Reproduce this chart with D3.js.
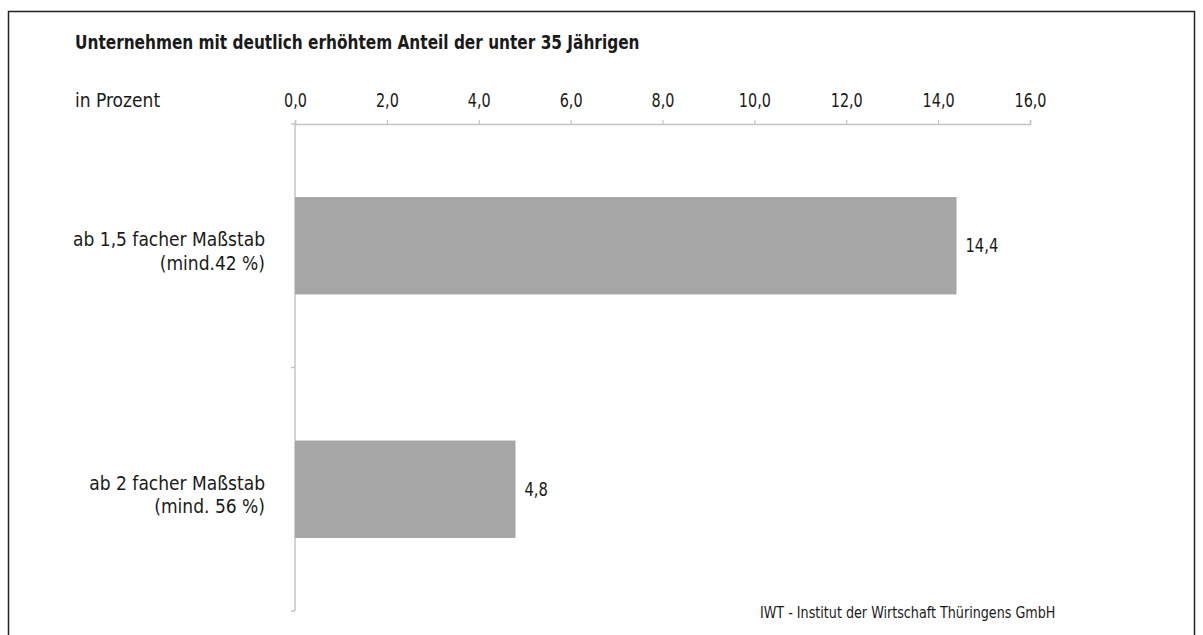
<!DOCTYPE html>
<html>
<head>
<meta charset="utf-8">
<script src="https://cdn.jsdelivr.net/npm/d3@7"></script>
<style>
  html, body { margin: 0; padding: 0; background: #fff; }
  svg { display: block; }
  text { font-family: "Liberation Sans Narrow", "Arial Narrow", "DejaVu Sans Condensed", sans-serif; fill: #1a1a1a; }
</style>
</head>
<body>
<svg id="chart" width="1203" height="635"></svg>
<script>
const title = "Unternehmen mit deutlich erhöhtem Anteil der unter 35 Jährigen";
const unitLabel = "in Prozent";
const source = "IWT - Institut der Wirtschaft Thüringens GmbH";
const categories = [
  ["ab 1,5 facher Maßstab", "(mind.42 %)"],
  ["ab 2 facher Maßstab", "(mind. 56 %)"]
];
const values = [14.4, 4.8];
const tickValues = [0, 2, 4, 6, 8, 10, 12, 14, 16];

(function () {
const svg = d3.select("#chart");
const fmt = v => d3.format(".1f")(v).replace(".", ",");

// helper: text drawn with a horizontal condensing factor
function label(parent, x, y, str, size, k, anchor, weight) {
  return parent.append("text")
    .attr("transform", `translate(${x},${y}) scale(${k},1)`)
    .attr("text-anchor", anchor || "start")
    .style("font-size", size + "px")
    .style("font-weight", weight || "normal")
    .text(str);
}

// outer frame
svg.append("rect")
  .attr("x", 8.5).attr("y", 11.5)
  .attr("width", 1186).attr("height", 640)
  .attr("fill", "none").attr("stroke", "#222").attr("stroke-width", 1.5);

const pLeft = 295, pRight = 1030, pTop = 124, pBottom = 611;
const x = d3.scaleLinear().domain([0, 16]).range([pLeft, pRight]);
const y = d3.scaleBand().domain(d3.range(categories.length)).range([pTop, pBottom]).paddingInner(0.6).paddingOuter(0.3);
const yb = d3.scaleBand().domain(d3.range(categories.length)).range([pTop, pBottom]);

// title and unit
label(svg, 75, 49, title, 19.5, 0.875, "start", "bold");
label(svg, 75, 107, unitLabel, 19, 1, "start");

const axisColor = "#c4c4c4";
// top x axis
const xAxis = svg.append("g").attr("transform", `translate(0,${pTop})`)
  .call(d3.axisTop(x).tickValues(tickValues).tickFormat(fmt).tickSize(4).tickSizeOuter(4));
xAxis.select(".domain").attr("stroke", axisColor).attr("stroke-width", 1.5);
xAxis.selectAll(".tick line").attr("stroke", axisColor).attr("stroke-width", 1.2);
xAxis.selectAll(".tick text")
  .attr("y", null).attr("dy", null)
  .attr("transform", "translate(0,-17) scale(0.82,1)")
  .style("font-size", "19.5px").attr("fill", "#1a1a1a");

// left axis line with band ticks
svg.append("line").attr("x1", pLeft).attr("x2", pLeft).attr("y1", pTop).attr("y2", pBottom)
  .attr("stroke", axisColor).attr("stroke-width", 1.5);
const bandEdges = [pTop].concat(categories.map((c, i) => yb(i) + yb.bandwidth()));
svg.selectAll(".ytick").data(bandEdges).join("line")
  .attr("x1", pLeft - 4).attr("x2", pLeft).attr("y1", d => d).attr("y2", d => d)
  .attr("stroke", axisColor).attr("stroke-width", 1.5);

// bars
svg.selectAll(".bar").data(values).join("rect")
  .attr("x", x(0)).attr("y", (d, i) => y(i))
  .attr("width", d => x(d) - x(0)).attr("height", y.bandwidth())
  .attr("fill", "#a6a6a6");

// value labels
values.forEach((d, i) => {
  label(svg, x(d) + 9, y(i) + y.bandwidth() / 2 + 6.5, fmt(d), 19.5, 0.84, "start");
});

// category labels
categories.forEach((lines, i) => {
  const cy = yb(i) + yb.bandwidth() / 2;
  const t = svg.append("text").attr("text-anchor", "end").style("font-size", "19px");
  lines.forEach((ln, j) => {
    t.append("tspan").attr("x", 265).attr("y", cy + 0.5 + j * 23.5).text(ln);
  });
});

// source
label(svg, 760, 618, source, 15, 0.945, "start");
})();
</script>
</body>
</html>
